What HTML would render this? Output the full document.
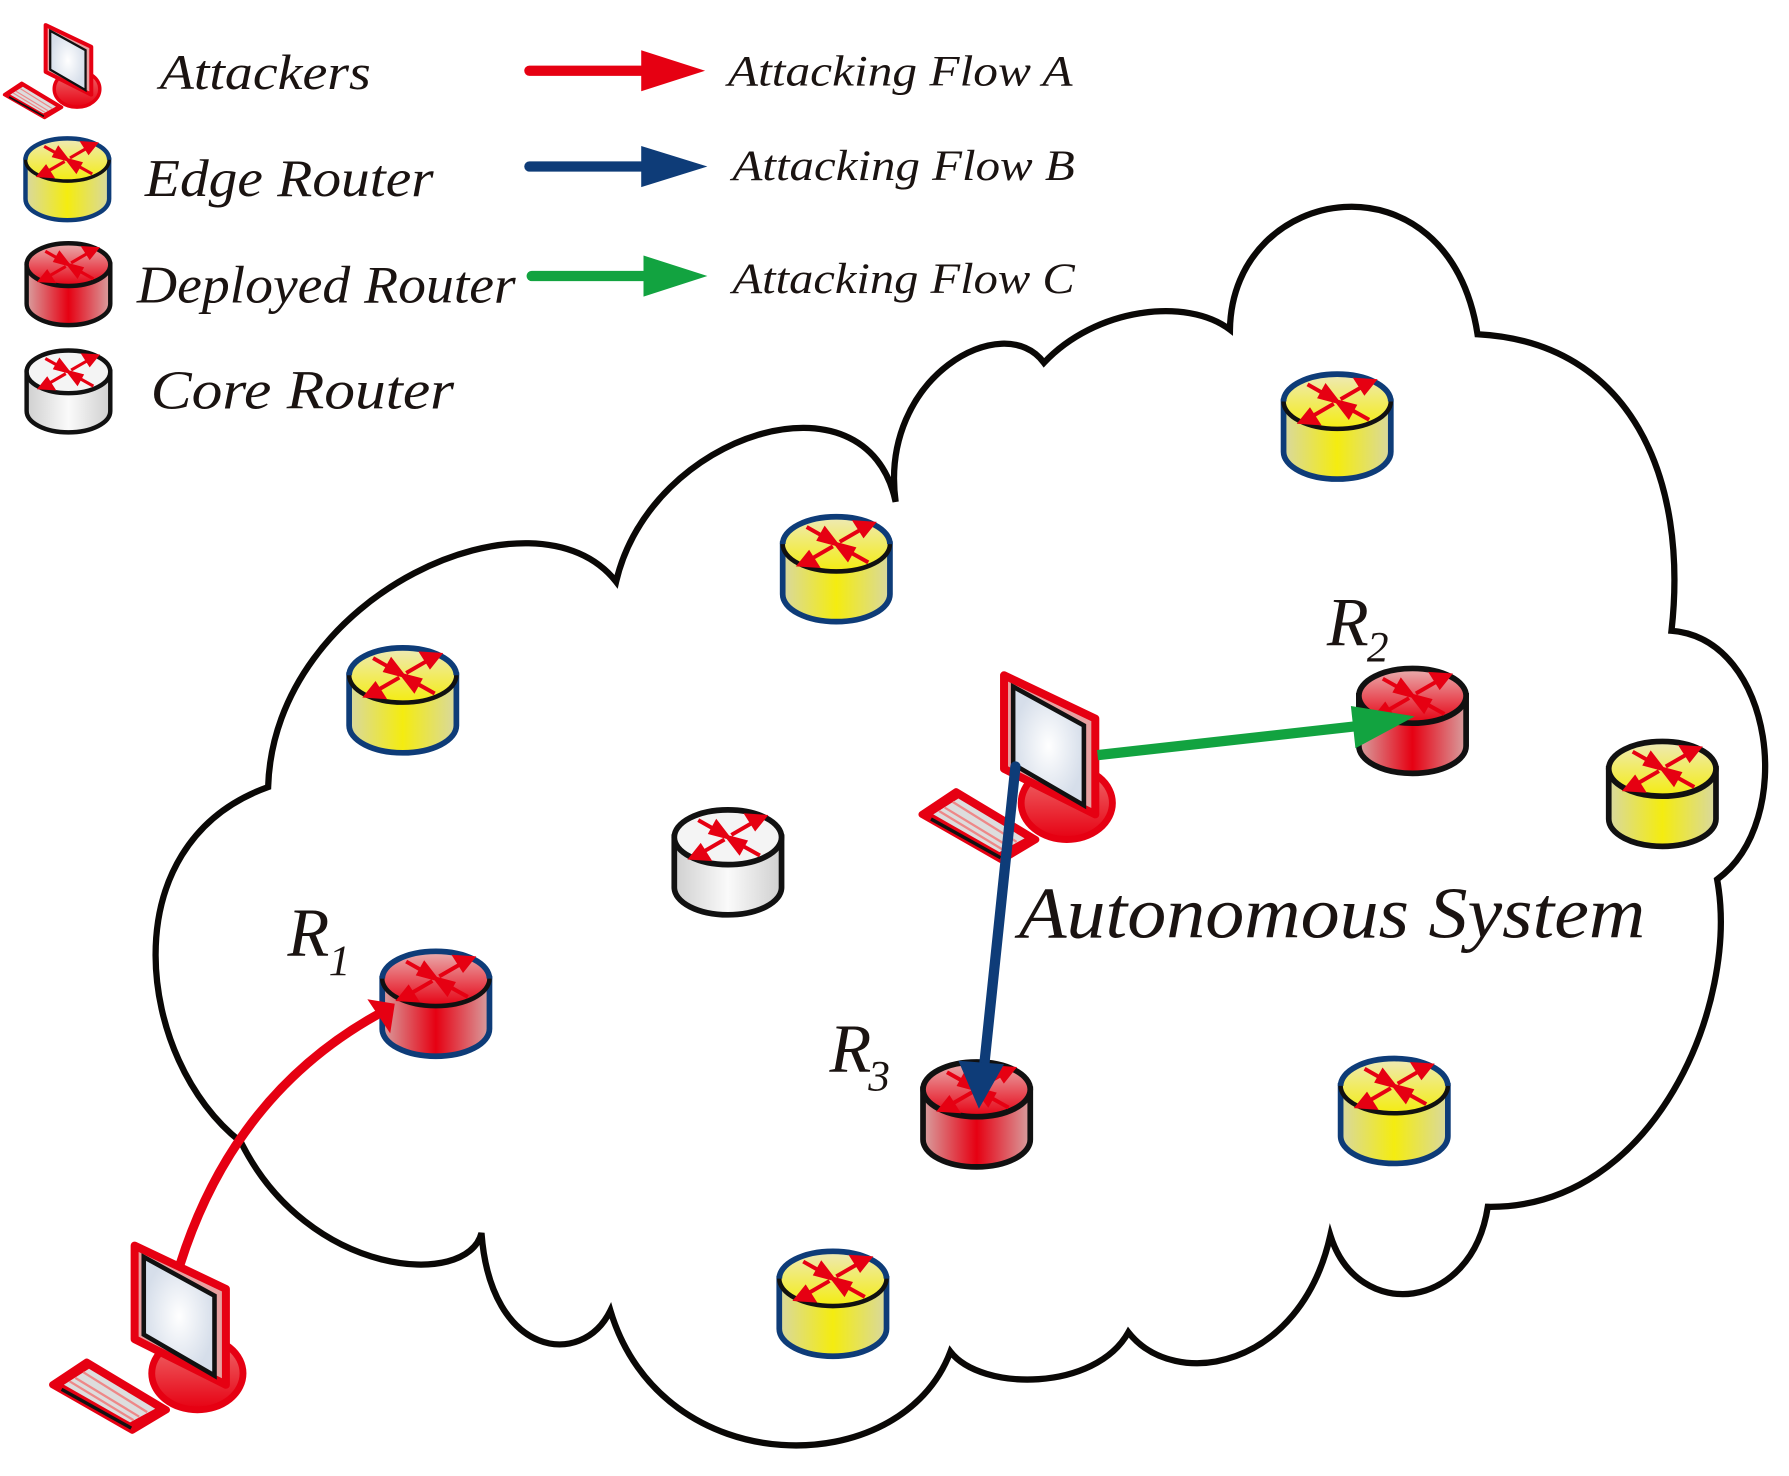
<!DOCTYPE html>
<html><head><meta charset="utf-8"><style>
html,body{margin:0;padding:0;background:#fff;}
svg{display:block;}
text{font-family:"Liberation Serif","DejaVu Serif",serif;font-style:italic;fill:#1a1311;}
</style></head><body>
<svg width="1789" height="1476" viewBox="0 0 1568 1294" preserveAspectRatio="none" xmlns="http://www.w3.org/2000/svg">
<defs>
<linearGradient id="gy" x1="0" x2="1" y1="0" y2="0"><stop offset="0" stop-color="#d8d8a0"/><stop offset="0.5" stop-color="#f4ec10"/><stop offset="1" stop-color="#d8d8a0"/></linearGradient>
<linearGradient id="gyt" x1="0" x2="0" y1="0" y2="1"><stop offset="0" stop-color="#eeeab8"/><stop offset="1" stop-color="#f4ec10"/></linearGradient>
<linearGradient id="gr" x1="0" x2="1" y1="0" y2="0"><stop offset="0" stop-color="#d8a0a0"/><stop offset="0.5" stop-color="#e60012"/><stop offset="1" stop-color="#d8a0a0"/></linearGradient>
<linearGradient id="grt" x1="0" x2="0" y1="0" y2="1"><stop offset="0" stop-color="#eab0b0"/><stop offset="1" stop-color="#e60012"/></linearGradient>
<linearGradient id="gw" x1="0" x2="1" y1="0" y2="0"><stop offset="0" stop-color="#cfcfcf"/><stop offset="0.5" stop-color="#fafafa"/><stop offset="1" stop-color="#cfcfcf"/></linearGradient>
<radialGradient id="gs"><stop offset="0" stop-color="#ffffff"/><stop offset="1" stop-color="#d6deea"/></radialGradient>
<linearGradient id="gb" x1="0" x2="0" y1="0" y2="1"><stop offset="0" stop-color="#f07070"/><stop offset="1" stop-color="#e60012"/></linearGradient>
<g id="arr">
 <g stroke="#e60012" stroke-width="3.5" fill="#e60012">
  <line x1="-3" y1="-2" x2="-26" y2="-15"/><polygon points="0,0 -10,-13 -15,-4"/>
  <line x1="3" y1="-2" x2="22" y2="-13"/><polygon points="32,-18 17,-19 24,-8"/>
  <line x1="-3" y1="2" x2="-22" y2="13"/><polygon points="-32,18 -17,19 -24,8"/>
  <line x1="3" y1="2" x2="28" y2="16"/><polygon points="0,0 10,13 15,4"/>
 </g>
</g>
<g id="body"><path d="M-47,0 L-47,44 A47,24 0 0 0 47,44 L47,0 Z"/></g>
<g id="edge"><g fill="url(#gy)" stroke="#0e3c78" stroke-width="5"><use href="#body"/></g><ellipse rx="47" ry="24" fill="url(#gyt)" stroke="#111" stroke-width="4"/><path d="M-47,0 A47,24 0 0 1 47,0" fill="none" stroke="#0e3c78" stroke-width="5"/><use href="#arr"/></g>
<g id="edgek"><g fill="url(#gy)" stroke="#111" stroke-width="5"><use href="#body"/></g><ellipse rx="47" ry="24" fill="url(#gyt)" stroke="#111" stroke-width="5"/><use href="#arr"/></g>
<g id="dep"><g fill="url(#gr)" stroke="#111" stroke-width="5"><use href="#body"/></g><ellipse rx="47" ry="24" fill="url(#grt)" stroke="#111" stroke-width="5"/><use href="#arr"/></g>
<g id="depb"><g fill="url(#gr)" stroke="#0e3c78" stroke-width="5"><use href="#body"/></g><ellipse rx="47" ry="24" fill="url(#grt)" stroke="#111" stroke-width="4"/><path d="M-47,0 A47,24 0 0 1 47,0" fill="none" stroke="#0e3c78" stroke-width="5"/><use href="#arr"/></g>
<g id="core"><g fill="url(#gw)" stroke="#111" stroke-width="5"><use href="#body"/></g><ellipse rx="47" ry="24" fill="#f4f4f4" stroke="#111" stroke-width="5"/><use href="#arr"/></g>
<g id="pc">
 <ellipse cx="55" cy="112" rx="40" ry="32" fill="url(#gb)" stroke="#e60012" stroke-width="6"/>
 <polygon points="0,0 80,38 80,122 0,82" fill="#e8a0a0" stroke="#e60012" stroke-width="7" stroke-linejoin="round"/>
 <polygon points="8,10 70,44 70,114 8,78" fill="url(#gs)" stroke="#111" stroke-width="4"/>
 <polygon points="-72,122 -42,102 28,144 -2,162" fill="#e60012" stroke="#e60012" stroke-width="6" stroke-linejoin="round"/>
 <polygon points="-62,122 -40,108 18,143 -4,155" fill="#ddd"/>
 <g stroke="#e88" stroke-width="2"><line x1="-52" y1="116" x2="4" y2="150"/><line x1="-45" y1="111" x2="11" y2="146"/><line x1="-57" y1="119" x2="-1" y2="153"/></g>
 <line x1="-64" y1="126" x2="-3" y2="160" stroke="#111" stroke-width="3"/>
</g>
</defs>

<!-- cloud -->
<path d="M211,1001 C120,930 95,740 235,690 C240,520 470,420 540,510 C570,380 760,320 785,440 C770,330 880,270 915,318 C960,270 1040,260 1078,289 C1080,160 1270,130 1295,293 C1430,300 1480,420 1465,553 C1555,560 1575,720 1505,771 C1525,880 1450,1060 1304,1058 C1290,1150 1190,1160 1166,1083 C1140,1200 1030,1220 989,1168 C960,1220 860,1220 833,1185 C790,1300 580,1300 535,1149 C510,1200 430,1190 422,1081 C410,1130 270,1120 211,1001 Z" fill="#fff" stroke="#0a0806" stroke-width="5.5" stroke-linejoin="miter"/>

<!-- legend -->
<g transform="translate(40,22) scale(0.5)"><use href="#pc"/></g>
<g transform="translate(59,140) scale(0.78)"><use href="#edge"/></g>
<g transform="translate(60,232) scale(0.78)"><use href="#dep"/></g>
<g transform="translate(60,326) scale(0.78)"><use href="#core"/></g>
<text x="140" y="78" font-size="44" textLength="185" lengthAdjust="spacingAndGlyphs">Attackers</text>
<text x="127" y="172" font-size="46" textLength="253" lengthAdjust="spacingAndGlyphs">Edge  Router</text>
<text x="120" y="265" font-size="46" textLength="332" lengthAdjust="spacingAndGlyphs">Deployed  Router</text>
<text x="132" y="358" font-size="48" textLength="266" lengthAdjust="spacingAndGlyphs">Core Router</text>
<text x="638" y="75" font-size="38" textLength="302" lengthAdjust="spacingAndGlyphs">Attacking Flow  A</text>
<text x="642" y="158" font-size="38" textLength="300" lengthAdjust="spacingAndGlyphs">Attacking Flow B</text>
<text x="642" y="257" font-size="38" textLength="300" lengthAdjust="spacingAndGlyphs">Attacking Flow C</text>
<line x1="464" y1="62" x2="570" y2="62" stroke="#e60012" stroke-width="9" stroke-linecap="round"/><polygon points="562,44 618,62 562,80" fill="#e60012"/>
<line x1="464" y1="146" x2="570" y2="146" stroke="#0e3c78" stroke-width="9" stroke-linecap="round"/><polygon points="562,128 620,146 562,164" fill="#0e3c78"/>
<line x1="466" y1="242" x2="572" y2="242" stroke="#12a340" stroke-width="9" stroke-linecap="round"/><polygon points="564,224 620,242 564,260" fill="#12a340"/>

<!-- routers -->
<use href="#edge" x="353" y="592"/>
<use href="#edge" x="733" y="477"/>
<use href="#edge" x="1172" y="352"/>
<use href="#edgek" x="1457" y="674"/>
<use href="#edge" x="1222" y="952"/>
<use href="#edge" x="730" y="1121"/>
<use href="#core" x="638" y="734"/>
<use href="#depb" x="382" y="858"/>
<use href="#dep" x="1238" y="610"/>
<use href="#dep" x="856" y="955"/>

<!-- attackers -->
<use href="#pc" x="880" y="592"/>
<use href="#pc" x="118" y="1092"/>

<!-- flows -->
<path d="M158,1108 Q205,960 330,890" fill="none" stroke="#e60012" stroke-width="8" stroke-linecap="round"/>
<polygon points="322,876 346,880 342,906" fill="#e60012"/>
<line x1="890" y1="672" x2="862" y2="940" stroke="#0e3c78" stroke-width="9" stroke-linecap="round"/>
<polygon points="840,930 880,933 858,972" fill="#0e3c78"/>
<line x1="962" y1="662" x2="1195" y2="636" stroke="#12a340" stroke-width="9"/>
<polygon points="1184,619 1240,628 1188,656" fill="#12a340"/>

<!-- labels -->
<text x="252" y="838" font-size="60">R</text><text x="288" y="855" font-size="38" font-style="normal">1</text>
<text x="1163" y="566" font-size="60">R</text><text x="1198" y="580" font-size="38" font-style="normal">2</text>
<text x="727" y="940" font-size="60">R</text><text x="761" y="956" font-size="38" font-style="normal">3</text>
<text x="893" y="822" font-size="64" textLength="549" lengthAdjust="spacingAndGlyphs">Autonomous System</text>
</svg>
</body></html>
